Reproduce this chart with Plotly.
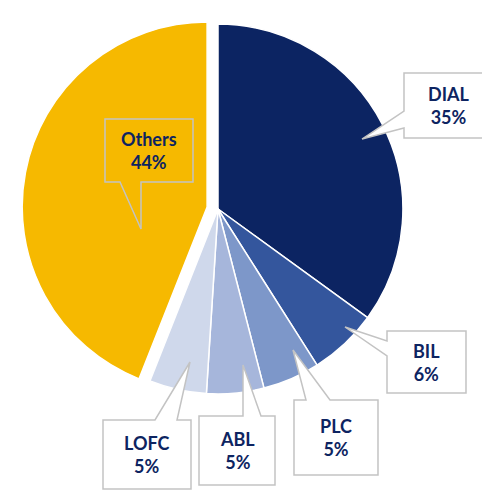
import plotly.graph_objects as go

labels = ["DIAL", "BIL", "PLC", "ABL", "LOFC", "Others"]
values = [35, 6, 5, 5, 5, 44]
colors = ["#0c2462", "#34569d", "#7d97c9", "#a6b6db", "#cfd8eb", "#f6b900"]
pulls = [0, 0, 0, 0, 0, 0.06]

W, H = 490, 502

# callout geometry (pixels): box, pointer side, pointer base, tip, fill
callouts = {
    "DIAL":   dict(box=(396, 65, 486, 130), side="left", base=(103, 120), tip=(354, 131), fill="white"),
    "Others": dict(box=(97, 111, 185, 174), side="bottom", base=(112, 133), tip=(133, 221), fill="rgba(0,0,0,0)"),
    "BIL":    dict(box=(379, 323, 458, 385), side="left", base=(333, 348), tip=(337, 319), fill="white"),
    "PLC":    dict(box=(286, 392, 370, 467), side="top", base=(298, 322), tip=(285, 342), fill="white"),
    "ABL":    dict(box=(191, 408, 267, 477), side="top", base=(235, 253), tip=(235, 357), fill="white"),
    "LOFC":   dict(box=(95, 412, 183, 481), side="top", base=(147, 169), tip=(182, 354), fill="white"),
}


def P(x, y):
    return f"{x / W:.5f},{1 - y / H:.5f}"


def callout_path(c):
    x0, y0, x1, y1 = c["box"]
    b1, b2 = c["base"]
    tx, ty = c["tip"]
    if c["side"] == "left":
        pts = [(x0, y0), (x1, y0), (x1, y1), (x0, y1), (x0, b2), (tx, ty), (x0, b1)]
    elif c["side"] == "top":
        pts = [(x0, y0), (b1, y0), (tx, ty), (b2, y0), (x1, y0), (x1, y1), (x0, y1)]
    else:  # bottom
        pts = [(x0, y0), (x1, y0), (x1, y1), (b2, y1), (tx, ty), (b1, y1), (x0, y1)]
    return "M " + " L ".join(P(x, y) for x, y in pts) + " Z"


fig = go.Figure(
    go.Pie(
        labels=labels,
        values=values,
        sort=False,
        direction="clockwise",
        rotation=0,
        pull=pulls,
        marker=dict(colors=colors, line=dict(color="white", width=1.5)),
        textinfo="none",
        hoverinfo="label+percent",
        showlegend=False,
        domain=dict(x=[14 / W, 406 / W], y=[1 - 397 / H, 1 - 5 / H]),
    )
)

shapes = []
annotations = []
for lab, val in zip(labels, values):
    c = callouts[lab]
    shapes.append(dict(type="path", xref="paper", yref="paper", path=callout_path(c),
                       fillcolor=c["fill"], line=dict(color="#c3c3c3", width=1.5), layer="above"))
    x0, y0, x1, y1 = c["box"]
    annotations.append(dict(
        x=(x0 + x1) / 2 / W, y=1 - (y0 + y1) / 2 / H, xref="paper", yref="paper",
        text=f"<b>{lab}<br>{val}%</b>", showarrow=False, align="center",
        font=dict(family="Lato, Open Sans, sans-serif", size=18, color="#0d2461"),
        xanchor="center", yanchor="middle",
    ))

fig.update_layout(
    width=W, height=H,
    margin=dict(l=0, r=0, t=0, b=0),
    paper_bgcolor="white",
    plot_bgcolor="white",
    shapes=shapes,
    annotations=annotations,
)

fig.write_html("out.html")
